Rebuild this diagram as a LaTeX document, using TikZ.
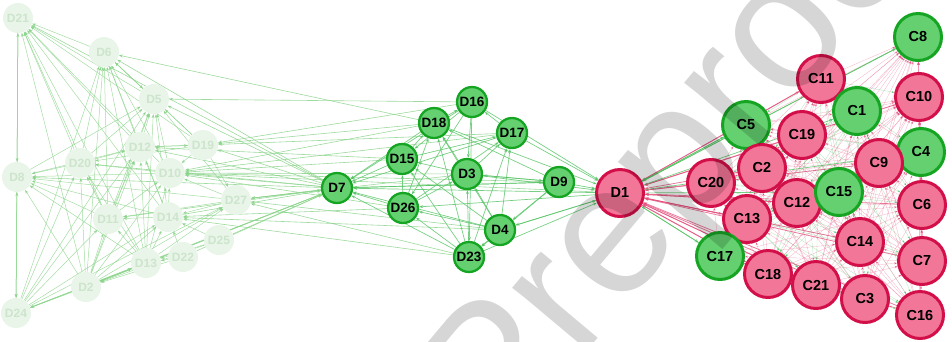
\documentclass[tikz,border=0pt]{standalone}
\usepackage{fontspec}
\setsansfont{Liberation Sans}
\usetikzlibrary{arrows.meta}
\definecolor{fadefill}{RGB}{232,245,232}
\definecolor{fadetext}{RGB}{205,228,205}
\definecolor{gfill}{RGB}{100,208,112}
\definecolor{gdraw}{RGB}{22,165,35}
\definecolor{pfill}{RGB}{242,118,152}
\definecolor{pdraw}{RGB}{210,15,72}
\definecolor{fedge}{RGB}{140,212,140}
\definecolor{gedge}{RGB}{85,195,100}
\definecolor{pedge}{RGB}{228,80,125}
\tikzset{
  tip/.tip={Stealth[length=4pt,width=3pt]},
  smalltip/.tip={Stealth[length=3pt,width=2.2pt]},
  fnode/.style={circle, minimum size=30pt, inner sep=0pt, fill=fadefill, text=fadetext,
    font=\sffamily\bfseries\fontsize{12}{12}\selectfont},
  dnode/.style={circle, minimum size=30pt, inner sep=0pt, fill=gfill, draw=gdraw, line width=2.3pt,
    font=\sffamily\bfseries\fontsize{13.5}{13.5}\selectfont},
  cp/.style={circle, minimum size=47pt, inner sep=0pt, fill=pfill, draw=pdraw, line width=3pt,
    font=\sffamily\bfseries\fontsize{14.5}{14.5}\selectfont},
  cg/.style={cp, fill=gfill, draw=gdraw},
  ghost/.style={draw=none, fill=none},
  fe/.style={draw=fedge, line width=0.5pt, draw opacity=0.8, -tip},
  le/.style={draw=fedge, line width=0.6pt, draw opacity=0.85, -tip},
  ge/.style={draw=gedge, line width=0.7pt, draw opacity=0.8, -tip},
  pe/.style={draw=pedge, line width=0.8pt, draw opacity=0.75, -tip},
  gw/.style={draw=gedge, line width=0.3pt, draw opacity=0.45, -smalltip},
  pw/.style={draw=pedge, line width=0.3pt, draw opacity=0.45, -smalltip},
}
\begin{document}
\begin{tikzpicture}[x=1pt,y=-1pt]
\useasboundingbox (0,0) rectangle (952,341);
% ---------- named node outlines (invisible, used as edge ends)
\foreach \n/\x/\y in {D21/18/18, D6/104/52, D5/154/99, D19/203/145, D12/140/147, D20/80/163,
  D8/17/177, D10/170/173, D27/236/200, D11/108/219, D14/168/217, D25/219/240, D22/183/257,
  D13/146/263, D2/86/287, D24/16/313}
  {\node[fnode, ghost] (\n) at (\x,\y) {};}
\foreach \n/\x/\y in {D16/472/102, D18/434/123, D17/512/133, D15/402/159, D3/467/174, D9/559/182,
  D7/337/188, D26/403/208, D4/500/230, D23/469/257}
  {\node[dnode, ghost] (\n) at (\x,\y) {};}
\node[cp, ghost] (D1) at (620,193) {};
\foreach \n/\x/\y in {C8/918/37, C11/821/79, C10/919/97, C1/857/111, C5/746/125, C19/802/135,
  C4/921/152, C9/879/163, C2/762/168, C20/711/183, C15/839/192, C12/797/203, C6/922/205,
  C13/747/219, C14/860/242, C17/720/256, C7/922/261, C18/768/274, C21/816/285, C3/865/299, C16/920/315}
  {\node[cp, ghost] (\n) at (\x,\y) {};}
% ---------- left faded cluster edges
\foreach \a/\b in {D6/D21, D5/D21, D19/D21, D12/D21, D10/D21, D14/D21, D20/D21, D11/D21, D2/D21,
  D13/D21, D8/D21, D21/D8, D21/D24, D5/D6, D12/D6, D20/D6, D11/D6, D2/D6, D24/D6, D13/D6, D14/D6,
  D19/D6, D10/D6, D6/D5, D19/D5, D12/D5, D20/D5, D8/D5, D11/D5, D14/D5, D13/D5, D2/D5, D10/D5, D27/D5,
  D24/D5, D12/D19, D19/D12, D20/D12, D11/D12, D14/D12, D13/D12, D2/D12, D24/D12, D8/D12, D20/D8,
  D11/D20, D24/D20, D19/D20, D10/D20, D13/D20, D2/D20, D10/D8, D11/D8, D2/D8, D13/D8, D14/D8,
  D27/D8, D19/D10, D14/D10, D11/D10, D2/D10, D13/D10, D27/D10, D14/D11, D13/D11, D2/D11, D24/D11,
  D27/D11, D27/D14, D13/D14, D2/D14, D22/D14, D24/D14, D25/D14, D2/D13, D13/D2, D22/D13, D24/D13,
  D25/D13, D2/D24, D8/D24, D24/D8, D19/D27, D13/D27, D2/D27, D24/D27, D25/D2, D22/D2, D13/D24}
  {\draw[fe] (\a) -- (\b);}
% ---------- long edges from the faded cluster to the middle
\foreach \a/\b in {D7/D10, D7/D19, D7/D21, D7/D6, D7/D5, D7/D27, D7/D12, D7/D20, D7/D8, D7/D11,
  D2/D7, D13/D7, D22/D7, D25/D7, D14/D7, D24/D7, D27/D7, D18/D10, D15/D10, D3/D10, D9/D10, D17/D10,
  D26/D10, D1/D10, D16/D19, D18/D19, D17/D19, D4/D27, D23/D27, D26/D14, D23/D14, D4/D14, D16/D5,
  D18/D6, D15/D12, D3/D27}
  {\draw[le] (\a) -- (\b);}
% ---------- middle edges
\foreach \a/\b in {D17/D16, D18/D16, D16/D3, D16/D23, D16/D15, D16/D26, D15/D18, D18/D7, D3/D18,
  D23/D18, D26/D18, D9/D18, D4/D18, D17/D1, D15/D17, D26/D17, D4/D17, D23/D17, D3/D17, D3/D15,
  D15/D7, D26/D15, D23/D15, D4/D15, D3/D9, D9/D3, D3/D1, D23/D3, D4/D3, D26/D3, D9/D1, D9/D4,
  D9/D23, D1/D7, D26/D7, D23/D7, D4/D7, D9/D7, D1/D26, D4/D26, D23/D26, D4/D1, D1/D4, D4/D23,
  D23/D1, D16/D1, D18/D1, D7/D9, D17/D7, D16/D7}
  {\draw[ge] (\a) -- (\b);}
% ---------- web inside the C cluster
\foreach \a [count=\i] in {C8,C11,C10,C1,C5,C19,C4,C9,C2,C20,C15,C12,C6,C13,C14,C17,C7,C18,C21,C3,C16}{
  \foreach \b [count=\j] in {C8,C11,C10,C1,C5,C19,C4,C9,C2,C20,C15,C12,C6,C13,C14,C17,C7,C18,C21,C3,C16}{
    \ifnum\i<\j
      \pgfmathtruncatemacro{\r}{mod(\i+2*\j,4)}
      \ifnum\r=0 \draw[gw] (\a) -- (\b); \else \draw[pw] (\b) -- (\a); \fi
    \fi
  }
}
% ---------- D1 to C nodes
\foreach \a in {C11, C20, C2, C19, C13, C12, C18, C14, C21, C3, C9, C10, C6, C7, C16}
  {\draw[pe] (\a) -- (D1);}
\foreach \a in {C11, C13, C18, C21, C12}
  {\draw[pe] (D1) -- (\a);}
\foreach \a in {C5, C8, C17, C1, C15, C4}
  {\draw[ge] (D1) -- (\a);}
\foreach \a in {C5, C17, C8}
  {\draw[ge] (\a) -- (D1);}
% ---------- nodes drawn on top
\foreach \n/\x/\y in {D21/18/18, D6/104/52, D5/154/99, D19/203/145, D12/140/147, D20/80/163,
  D8/17/177, D10/170/173, D27/236/200, D11/108/219, D14/168/217, D25/219/240, D22/183/257,
  D13/146/263, D2/86/287, D24/16/313}
  {\node[fnode] (v\n) at (\x,\y) {\n};}
\foreach \n/\x/\y in {D16/472/102, D18/434/123, D17/512/133, D15/402/159, D3/467/174, D9/559/182,
  D7/337/188, D26/403/208, D4/500/230, D23/469/257}
  {\node[dnode] (v\n) at (\x,\y) {\n};}
\node[cp] (vD1) at (620,193) {D1};
\foreach \n/\x/\y/\s in {C8/918/37/cg, C11/821/79/cp, C10/919/97/cp, C1/857/111/cg, C19/802/135/cp,
  C5/746/125/cg, C4/921/152/cg, C9/879/163/cp, C2/762/168/cp, C20/711/183/cp, C12/797/203/cp,
  C15/839/192/cg, C6/922/205/cp, C13/747/219/cp, C14/860/242/cp, C17/720/256/cg, C7/922/261/cp,
  C18/768/274/cp, C21/816/285/cp, C3/865/299/cp, C16/920/315/cp}
  {\node[\s] (v\n) at (\x,\y) {\n};}
% ---------- watermark
\node[rotate=50, anchor=base west, inner sep=0pt, text=black, text opacity=0.16,
  font=\sffamily\fontsize{185}{185}\selectfont] (wm) at (500,455) {Preproof};
\end{tikzpicture}
\end{document}
